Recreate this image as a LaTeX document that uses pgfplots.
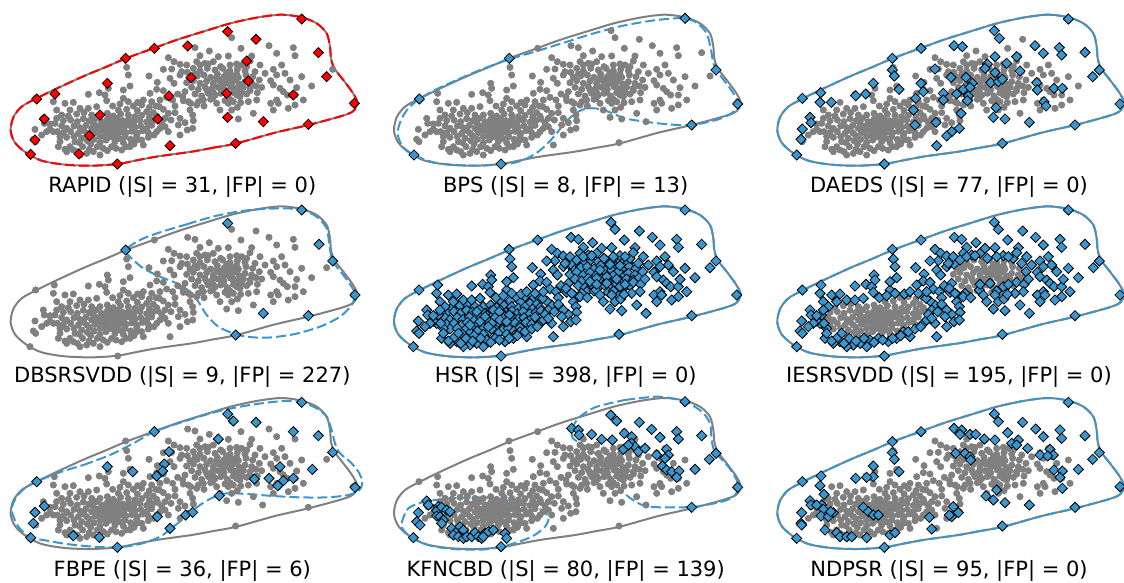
\documentclass[border=0pt]{standalone}
\usepackage{pgfplots}
\pgfplotsset{compat=1.18}
\usepackage{pgfplotstable}
\usepackage{fontspec}
\setmainfont{DejaVu Sans}
\definecolor{dblue}{RGB}{59,150,206}
\definecolor{pgray}{RGB}{128,128,128}
\newcommand{\tfont}{\fontsize{10.5}{12}\selectfont}
\pgfplotsset{
  panel/.style={scale only axis, width=187.5pt, height=97.5pt, xmin=0, xmax=1125, ymin=0, ymax=585, y dir=reverse, hide axis, clip=false, anchor=north west},
  gpts/.style={only marks, mark=*, mark size=1.55pt, color=pgray},
  dmd/.style={only marks, mark=square*, mark size=1.8pt, mark options={rotate=45, fill=dblue, draw=black, line width=0.4pt}},
  rdmd/.style={only marks, mark=square*, mark size=1.8pt, mark options={rotate=45, fill=red, draw=black, line width=0.4pt}},
  bnd/.style={no marks, smooth, color=pgray, line width=1pt},
  dsh/.style={no marks, smooth, color=dblue, line width=1pt, dash pattern=on 5pt off 2pt},
  rdsh/.style={no marks, smooth, color=red, line width=1pt, dash pattern=on 5pt off 2pt},
}
% ---- data (panel frame, 3x pixel units) ----
\pgfplotstableread{
x y
905 55
998 208
1060 310
925 372
707 428
353 493
90 465
107 295
377 173
463 145
980 228
683 92
695 113
768 118
807 137
830 160
880 143
885 167
955 158
723 145
755 168
563 137
585 143
600 167
628 153
655 170
685 168
590 185
615 190
640 185
662 200
505 173
522 185
540 193
515 207
562 217
540 225
490 208
510 235
522 250
472 247
447 228
380 202
385 225
322 250
390 258
413 307
450 280
470 268
490 272
500 292
518 300
533 282
550 302
572 310
595 305
638 295
640 278
670 275
690 298
710 285
725 278
750 272
772 278
710 192
740 200
750 183
780 195
795 220
820 208
845 195
855 220
830 225
812 242
820 255
840 265
850 275
862 285
885 285
890 263
935 258
830 300
812 310
835 310
885 315
650 310
660 330
685 310
695 330
712 322
680 352
715 357
788 365
570 330
578 345
580 362
555 368
505 340
495 355
513 360
490 328
470 395
505 395
540 405
562 390
578 385
510 435
410 420
430 435
390 440
365 450
335 440
310 445
300 465
280 455
260 460
240 465
248 440
220 450
225 425
210 440
200 455
175 440
180 410
160 395
150 388
165 370
130 355
133 370
105 388
100 418
107 425
170 330
160 305
163 280
195 310
220 307
265 283
298 278
315 285
320 302
370 295
370 270
325 265
195 448
232 455
268 448
292 440
322 452
348 445
378 440
402 432
425 420
445 412
462 405
480 385
485 368
185 345
170 355
150 372
140 395
125 405
172 395
180 425
210 330
240 325
265 325
290 320
338 318
360 312
385 305
430 300
455 305
478 320
545 215
560 195
580 205
600 195
625 192
690 195
725 195
765 215
778 240
785 262
770 300
745 305
722 308
555 275
548 290
565 305
590 315
612 318
480 300
525 318
525 338
540 355
535 375
495 380
870 240
905 230
910 300
865 325
820 330
760 340
}\Gouter
\pgfplotstableread{
x y
400 318
425 315
448 322
468 318
380 328
412 332
440 335
460 338
355 330
230 342
252 338
275 345
300 345
322 340
340 348
362 342
385 345
405 350
425 346
448 352
470 348
205 348
190 362
212 360
232 365
250 356
268 362
288 355
305 365
322 358
338 364
352 356
368 362
386 358
402 366
420 360
440 366
458 362
473 357
345 370
312 372
280 370
185 378
200 385
222 378
240 383
258 376
275 385
292 378
308 386
325 380
340 386
356 378
372 384
388 376
405 382
422 378
440 385
455 376
362 395
330 370
360 368
190 398
212 395
235 400
252 392
268 407
285 398
300 392
318 400
335 395
350 402
378 398
395 394
412 400
428 392
445 398
300 410
340 412
200 412
222 410
245 415
262 422
282 418
318 420
325 412
358 415
375 410
392 418
410 408
238 428
272 432
300 428
345 425
370 428
395 430
330 355
348 360
335 378
318 390
345 392
365 375
378 370
350 385
325 395
305 375
290 390
370 390
315 405
260 400
280 360
600 213
622 205
645 210
668 205
690 213
712 208
735 212
585 222
570 232
592 228
612 225
632 232
652 222
672 230
695 226
715 232
738 225
758 230
560 248
580 242
600 250
620 243
640 250
658 242
678 248
698 244
718 252
735 245
755 250
575 262
595 268
615 260
635 268
655 262
672 268
692 260
712 268
730 262
750 265
768 258
585 282
605 288
625 280
645 286
662 280
682 288
700 278
720 290
740 282
610 300
632 298
675 302
700 305
665 238
685 236
705 240
650 235
690 252
670 255
640 260
700 262
620 270
710 222
680 218
}\Gcore
\pgfplotstableread{
x y
640 443
575 455
475 469
415 480
353 492
275 497
195 494
125 482
78 458
45 428
32 392
40 352
65 320
108 296
165 268
250 229
320 200
378 175
463 144
535 118
625 90
695 69
775 52
845 44
905 52
950 70
980 100
990 140
993 175
1003 205
1030 240
1058 278
1072 308
1060 333
1025 348
925 375
825 398
710 430
640 443
}\Bnd
\pgfplotstableread{
x y
905 57
683 95
768 118
463 145
563 138
377 175
955 158
740 183
980 230
573 233
745 243
322 250
165 282
110 297
507 288
680 280
880 285
1063 310
300 345
133 357
473 357
683 352
790 365
925 373
105 420
268 407
510 437
707 430
92 463
237 462
352 492
}\Drapid
\pgfplotstableread{
x y
905 55
378 175
108 297
92 465
353 492
925 375
1063 312
998 210
}\Dbps
\pgfplotstableread{
x y
225 238
295 208
378 178
465 152
545 127
625 102
715 78
805 62
875 55
905 55
940 68
970 100
983 150
990 190
998 210
1025 245
1050 280
1063 312
1047 338
1005 358
925 375
855 373
785 365
725 355
675 335
635 325
600 328
570 345
543 370
520 400
495 428
465 455
425 478
385 490
353 492
295 497
225 495
155 488
92 465
57 438
43 400
53 360
75 325
108 297
155 270
225 238
}\Cbps
\pgfplotstableread{
x y
905 57
683 92
698 115
463 145
562 137
587 140
805 137
830 160
878 143
885 165
955 157
377 175
685 170
750 170
662 192
760 213
685 218
377 210
383 228
505 207
553 232
598 232
617 250
590 268
610 262
672 248
695 245
707 238
998 210
978 230
810 248
812 270
862 265
887 265
320 250
397 268
463 250
470 275
447 295
530 280
530 300
570 282
605 288
602 302
440 330
583 340
688 323
680 352
715 357
788 367
925 375
832 305
838 318
162 278
160 307
107 295
267 287
297 282
130 352
133 368
107 387
103 418
90 465
353 492
707 430
1060 312
445 375
508 367
578 385
555 395
540 408
510 437
194 307
655 205
720 190
}\Ddaeds
\pgfplotstableread{
x y
905 55
683 95
377 175
957 158
998 208
1065 310
790 365
925 372
707 430
}\Ddbs
\pgfplotstableread{
x y
560 98
650 72
750 55
850 50
905 55
950 75
980 110
988 160
998 208
1030 250
1058 290
1065 310
1055 340
1020 375
960 405
880 428
800 438
740 435
700 425
655 405
620 370
595 330
570 300
530 275
480 255
430 230
395 200
377 175
420 145
480 122
560 98
}\Cdbs
\pgfplotstableread{
x y
905 57
683 92
700 113
768 117
463 145
655 167
880 145
955 157
998 207
507 205
493 242
488 263
470 278
322 250
398 265
110 295
133 368
105 387
100 420
92 463
220 457
298 462
352 492
472 400
510 435
557 395
578 387
658 337
763 287
807 285
840 250
850 292
833 307
880 285
937 258
1065 312
}\Dfbpe
\pgfplotstableread{
x y
250 245
330 215
400 180
463 145
550 115
650 85
750 65
850 53
905 57
950 75
980 100
995 140
1005 180
1020 210
1050 235
1075 265
1087 295
1078 320
1045 335
980 342
900 342
820 338
740 332
680 330
640 342
600 365
560 398
520 430
480 460
420 482
352 492
280 490
200 482
130 470
92 463
55 430
35 380
50 340
80 310
110 295
170 270
250 245
}\Cfbpe
\pgfplotstableread{
x y
130 353
135 365
165 370
160 382
175 372
190 380
200 385
105 388
160 398
170 400
180 410
100 415
110 425
175 420
205 435
220 445
230 430
240 440
210 455
225 460
240 465
250 460
265 460
275 448
285 460
295 465
305 450
315 445
330 440
365 450
370 465
300 460
90 463
353 490
565 135
585 140
587 155
625 153
655 168
687 170
682 95
700 113
768 117
723 150
745 160
805 138
830 162
880 145
885 167
955 157
720 198
745 180
755 190
765 205
785 195
820 215
850 198
855 215
837 248
850 260
865 265
887 263
880 282
978 228
998 210
935 258
905 55
1063 312
925 372
735 185
845 225
}\Dkfn
\pgfplotstableread{
x y
305 342
395 355
465 375
495 400
485 430
445 460
375 485
305 498
225 498
145 488
90 465
60 440
55 420
75 375
125 355
205 345
305 342
}\Ckfna
\pgfplotstableread{
x y
725 50
825 40
905 55
955 85
980 120
985 170
995 205
1035 250
1060 290
1065 315
1050 340
1015 355
935 370
855 372
785 368
735 340
695 300
665 250
635 210
600 185
575 170
565 155
580 110
635 72
725 50
}\Ckfnb
\pgfplotstableread{
x y
905 57
683 92
695 115
768 117
807 137
830 160
880 140
885 165
955 157
562 135
585 140
580 153
610 153
627 153
653 167
685 170
723 148
755 170
735 180
750 185
783 195
820 215
850 198
860 215
843 218
463 145
377 175
377 208
383 228
320 248
397 265
567 210
595 210
610 220
612 230
998 208
978 228
935 258
862 260
887 263
880 282
887 315
320 280
300 282
267 285
163 278
107 295
160 307
172 333
130 352
133 365
165 365
170 378
200 388
163 398
185 400
105 388
103 420
105 425
175 440
210 448
220 460
240 460
255 460
300 463
370 455
385 448
290 372
305 385
320 395
335 395
495 437
488 402
560 370
575 388
555 400
548 395
658 338
690 320
680 350
715 358
788 365
925 372
707 428
353 492
90 465
1060 310
192 385
150 365
}\Dndpsr
\begin{document}
\begin{tikzpicture}
\useasboundingbox (0pt,0pt) rectangle (562pt,-291.5pt);
% Row 1
\begin{axis}[panel, at={(0pt,0pt)}]
\addplot[gpts] table {\Gcore};
\addplot[gpts] table {\Gouter};
\addplot[bnd] table {\Bnd};
\addplot[rdsh] table {\Bnd};
\addplot[rdmd] table {\Drapid};
\node[font=\tfont] at (axis cs:547,562) {RAPID (|S| = 31, |FP| = 0)};
\end{axis}
\begin{axis}[panel, at={(191.667pt,0pt)}]
\addplot[gpts] table {\Gcore};
\addplot[gpts] table {\Gouter};
\addplot[bnd] table {\Bnd};
\addplot[dsh] table {\Cbps};
\addplot[dmd] table {\Dbps};
\node[font=\tfont] at (axis cs:547,562) {BPS (|S| = 8, |FP| = 13)};
\end{axis}
\begin{axis}[panel, at={(383.333pt,0pt)}]
\addplot[gpts] table {\Gcore};
\addplot[gpts] table {\Gouter};
\addplot[bnd] table {\Bnd};
\addplot[dsh] table {\Bnd};
\addplot[dmd] table {\Ddaeds};
\node[font=\tfont] at (axis cs:547,562) {DAEDS (|S| = 77, |FP| = 0)};
\end{axis}
% Row 2
\begin{axis}[panel, at={(0pt,-95.833pt)}]
\addplot[gpts] table {\Gcore};
\addplot[gpts] table {\Gouter};
\addplot[bnd] table {\Bnd};
\addplot[dsh] table {\Cdbs};
\addplot[dmd] table {\Ddbs};
\node[font=\tfont] at (axis cs:547,556) {DBSRSVDD (|S| = 9, |FP| = 227)};
\end{axis}
\begin{axis}[panel, at={(191.667pt,-95.833pt)}]
\addplot[bnd] table {\Bnd};
\addplot[dsh] table {\Bnd};
\addplot[dmd] table {\Gcore};
\addplot[dmd] table {\Gouter};
\node[font=\tfont] at (axis cs:547,556) {HSR (|S| = 398, |FP| = 0)};
\end{axis}
\begin{axis}[panel, at={(383.333pt,-95.833pt)}]
\addplot[gpts] table {\Gcore};
\addplot[bnd] table {\Bnd};
\addplot[dsh] table {\Bnd};
\addplot[dmd] table {\Gouter};
\node[font=\tfont] at (axis cs:547,556) {IESRSVDD (|S| = 195, |FP| = 0)};
\end{axis}
% Row 3
\begin{axis}[panel, at={(0pt,-191.667pt)}]
\addplot[gpts] table {\Gcore};
\addplot[gpts] table {\Gouter};
\addplot[bnd] table {\Bnd};
\addplot[dsh] table {\Cfbpe};
\addplot[dmd] table {\Dfbpe};
\node[font=\tfont] at (axis cs:547,562) {FBPE (|S| = 36, |FP| = 6)};
\end{axis}
\begin{axis}[panel, at={(191.667pt,-191.667pt)}]
\addplot[gpts] table {\Gcore};
\addplot[gpts] table {\Gouter};
\addplot[bnd] table {\Bnd};
\addplot[dsh] table {\Ckfna};
\addplot[dsh] table {\Ckfnb};
\addplot[dmd] table {\Dkfn};
\node[font=\tfont] at (axis cs:547,562) {KFNCBD (|S| = 80, |FP| = 139)};
\end{axis}
\begin{axis}[panel, at={(383.333pt,-191.667pt)}]
\addplot[gpts] table {\Gcore};
\addplot[gpts] table {\Gouter};
\addplot[bnd] table {\Bnd};
\addplot[dsh] table {\Bnd};
\addplot[dmd] table {\Dndpsr};
\node[font=\tfont] at (axis cs:547,562) {NDPSR (|S| = 95, |FP| = 0)};
\end{axis}
\end{tikzpicture}
\end{document}
